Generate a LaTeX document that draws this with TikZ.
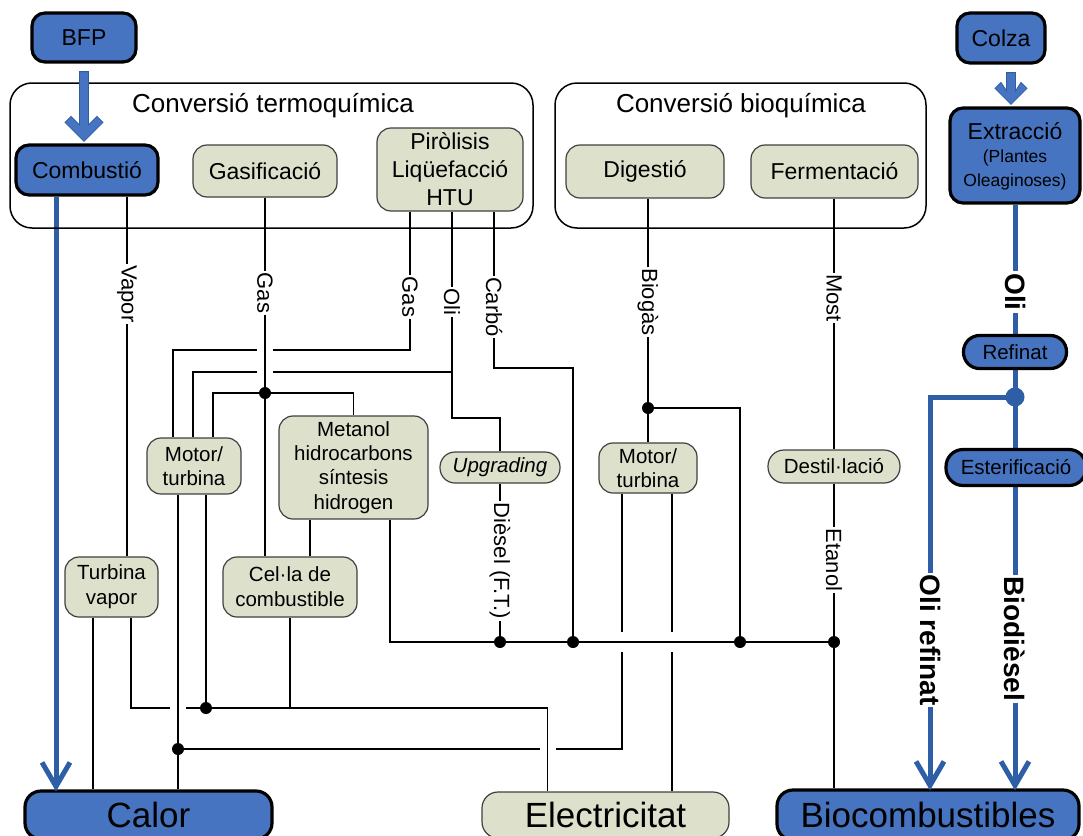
\documentclass[tikz,border=0pt]{standalone}
\usepackage{fontspec}
\setmainfont{Liberation Sans}
\usetikzlibrary{calc}
\pgfdeclarelayer{background}
\pgfsetlayers{background,main}

\definecolor{bfill}{RGB}{70,116,192}
\definecolor{bline}{RGB}{46,95,166}
\definecolor{gfill}{RGB}{221,225,204}
\definecolor{gdraw}{RGB}{64,64,64}
\newcommand{\fs}[2]{\fontsize{#1}{#2}\selectfont}

\tikzset{
  bluebox/.style={draw=black, line width=3.2pt, fill=bfill, rounded corners=13pt, inner sep=0pt, align=center},
  greenbox/.style={draw=gdraw, line width=1.2pt, fill=gfill, rounded corners=14pt, inner sep=0pt, align=center},
  groupframe/.style={draw=black, line width=1.5pt, rounded corners=22pt, inner sep=0pt},
  boxsize/.style 2 args={minimum width=#1pt, minimum height=#2pt},
  wire/.style={draw=black, line width=1.8pt},
  bwire/.style={draw=bline, line width=5pt},
  lbl/.style={rotate=-90, fill=white, inner sep=1.5pt, font=\fs{22}{24}},
  blbl/.style={rotate=-90, fill=white, inner sep=2pt, font=\fs{28}{30}\bfseries},
  jdot/.style={circle, fill=black, inner sep=0pt, minimum size=12pt},
  bdot/.style={circle, fill=bline, inner sep=0pt, minimum size=19pt},
  fatarrow/.style={fill=bfill, draw=bline, line width=0.8pt, line join=miter},
}

% broad block arrow from the bottom of #1 to the top of #2, shaft shifted by #3,
% head half-width #4
\newcommand{\fatdown}[4]{%
  \filldraw[fatarrow] let \p1=([xshift=#3]#1.south), \p2=(#2.north) in
    (\x1-4.5pt,\y1-8pt) -- (\x1+4.5pt,\y1-8pt) -- (\x1+4.5pt,\y2+#4pt-0.5pt)
    -- (\x1+#4pt-6pt,\y2+#4pt+8pt) -- (\x1+#4pt,\y2+#4pt+2pt) -- (\x1,\y2+2pt)
    -- (\x1-#4pt,\y2+#4pt+2pt) -- (\x1-#4pt+6pt,\y2+#4pt+8pt) -- (\x1-4.5pt,\y2+#4pt-0.5pt) -- cycle;}

% open V head of a blue flow line ending at coordinate #1
\newcommand{\vtip}[1]{%
  \draw[bwire, line cap=butt, line join=miter]
    ([xshift=-14pt,yshift=27pt]#1) -- ([yshift=3pt]#1) -- ([xshift=14pt,yshift=27pt]#1);}

\begin{document}
\begin{tikzpicture}[x=1pt,y=-1pt]
\useasboundingbox (0,0) rectangle (1083,835);

% process groups
\node[groupframe, boxsize={523}{145}] (termo) at (271.5,155.5) {};
\node[font=\fs{26}{28}] (termot) at (273,106) {Conversió termoquímica};
\node[groupframe, boxsize={371}{145}] (bioq) at (740.5,155.5) {};
\node[font=\fs{26}{28}] (bioqt) at (741,106) {Conversió bioquímica};

% top row
\node[bluebox, boxsize={104}{49}, font=\fs{23}{26}] (bfp) at (84,37.5) {BFP};
\node[bluebox, boxsize={142}{50}, font=\fs{23}{26}] (comb) at (87,170) {Combustió};
\node[greenbox, boxsize={144}{52}, font=\fs{23}{26}] (gasif) at (265,171) {Gasificació};
\node[greenbox, boxsize={146}{83}, font=\fs{23}{28}] (pyr) at (450,169.5) {Piròlisis\\Liqüefacció\\HTU};
\node[greenbox, boxsize={158}{53}, font=\fs{23}{26}] (dig) at (645,171.5) {Digestió};
\node[greenbox, boxsize={167}{53}, font=\fs{23}{26}] (ferm) at (834.5,171.5) {Fermentació};
\node[bluebox, boxsize={88}{50}, font=\fs{23}{26}] (colza) at (1001,38) {Colza};
\node[bluebox, boxsize={130}{95}] (extr) at (1015,155.5) {};
\node[font=\fs{23}{26}] (extrt) at (1015,131) {Extracció};
\node[font=\fs{17.5}{24}, align=center] (extrs) at (1015,170) {(Plantes\\Oleaginoses)};

% intermediate conversions
\node[greenbox, boxsize={94}{56}, font=\fs{20.5}{24}] (mtl) at (194,466) {Motor/\\turbina};
\node[greenbox, boxsize={149}{103}, font=\fs{20.5}{24.3}] (meta) at (353.5,467.5) {Metanol\\hidrocarbons\\síntesis\\hidrogen};
\node[greenbox, boxsize={120}{31}, rounded corners=15pt, font=\fs{20.5}{24}\itshape] (upg) at (500,467.5) {Upgrading};
\node[greenbox, boxsize={98}{50}, font=\fs{20.5}{24}] (mtr) at (648,468) {Motor/\\turbina};
\node[greenbox, boxsize={132}{33}, rounded corners=16pt, font=\fs{20.5}{24}] (dest) at (834,466.5) {Destil·lació};
\node[bluebox, boxsize={103}{33}, rounded corners=16pt, font=\fs{20.5}{24}] (refi) at (1015,352) {Refinat};
\node[bluebox, boxsize={140}{36}, rounded corners=17pt, font=\fs{20.5}{24}] (ester) at (1016,467.5) {Esterificació};
\node[greenbox, boxsize={93}{60}, font=\fs{20.5}{25}] (turbv) at (111.5,587) {Turbina\\vapor};
\node[greenbox, boxsize={134}{60}, font=\fs{20.5}{25}] (cella) at (290,587) {Cel·la de\\combustible};

% final products
\node[bluebox, boxsize={247}{48}, rounded corners=16pt, font=\fs{35}{38}] (calor) at (148.5,815) {Calor};
\node[greenbox, boxsize={247}{46}, rounded corners=16pt, font=\fs{35}{38}] (elec) at (605.5,815) {Electricitat};
\node[bluebox, boxsize={302}{50}, rounded corners=16pt, font=\fs{35}{38}] (bioc) at (928,815) {Biocombustibles};

% junction dots
\node[jdot] (jg) at (265,393) {};
\node[jdot] (jb) at (648,408) {};
\node[jdot] (je) at (206,708) {};
\node[jdot] (jc) at (178,749) {};
\node[jdot] (b1) at (500,642) {};
\node[jdot] (b2) at (573,642) {};
\node[jdot] (b3) at (740,642) {};
\node[jdot] (b4) at (834,642) {};
\node[bdot] (jr) at (1015,397) {};

\begin{pgfonlayer}{background}
  % thermochemical outputs
  \draw[wire] ([xshift=40pt]comb.south) -- ([xshift=15.5pt]turbv.north);
  \draw[wire] (gasif.south) -- ([xshift=-25pt]cella.north);
  \draw[wire] ([xshift=-40pt]pyr.south) |- (273,350);
  \draw[wire] (257,350) -| ([xshift=-21pt]mtl.north);
  \draw[wire] ([xshift=2pt]pyr.south) |- (500,418) -- (upg.north);
  \draw[wire] (452,372) -- (273,372);
  \draw[wire] (257,372) -| ([xshift=-1pt]mtl.north);
  \draw[wire] ([xshift=44pt]pyr.south) |- (573,368) -- (b2.center);
  \draw[wire] ([xshift=19pt]mtl.north) |- (meta.north |- jg) -- (meta.north);

  % engines and turbines to heat and electricity
  \draw[wire] ([xshift=-16pt]mtl.south) -- ([xshift=29.5pt]calor.north);
  \draw[wire] ([xshift=12pt]mtl.south) -- (je.center);
  \draw[wire] ([xshift=-18.5pt]turbv.south) -- ([xshift=-55.5pt]calor.north);
  \draw[wire] ([xshift=19.5pt]turbv.south) |- (170,708);
  \draw[wire] (186,708) -| ([xshift=-58pt]elec.north);
  \draw[wire] ([xshift=20pt]cella.north) -- ([xshift=-43.5pt]meta.south);
  \draw[wire] (cella.south) -- (cella.south |- je);

  % fuel bus to biofuels
  \draw[wire] ([xshift=36.5pt]meta.south) |- (b4.center) -- ([xshift=-94pt]bioc.north);
  \draw[wire] (upg.south) -- (b1.center);

  % biogas engine
  \draw[wire] ([xshift=3pt]dig.south) -- (mtr.north);
  \draw[wire] (jb.center) -| (b3.center);
  \draw[wire] ([xshift=-26pt]mtr.south) -- (622,632);
  \draw[wire] (622,652) |- (556,749);
  \draw[wire] (540,749) -- (jc.center);
  \draw[wire] ([xshift=24pt]mtr.south) -- (672,632);
  \draw[wire] (672,652) -- ([xshift=66.5pt]elec.north);

  % fermentation
  \draw[wire] ([xshift=-0.5pt]ferm.south) -- (dest.north);
  \draw[wire] (dest.south) -- (b4.center);

  % blue main flows
  \coordinate (tc) at ([xshift=-92.5pt]calor.north);
  \coordinate (tr) at ([xshift=2pt]bioc.north);
  \coordinate (tb) at ([xshift=87pt]bioc.north);
  \draw[bwire] ([xshift=-31pt]comb.south) -- ([yshift=3pt]tc);
  \draw[bwire] (extr.south) -- (refi.north);
  \draw[bwire] (refi.south) -- ([xshift=-1pt]ester.north);
  \draw[bwire] (jr.center) -| ([yshift=3pt]tr);
  \draw[bwire] ([xshift=-1pt]ester.south) -- ([yshift=3pt]tb);
\end{pgfonlayer}

% arrow heads
\vtip{tc}
\vtip{tr}
\vtip{tb}
\fatdown{bfp}{comb}{0pt}{19}
\fatdown{colza}{extr}{10pt}{16}

% flow labels
\node[lbl] (lvap) at (127,294) {Vapor};
\node[lbl] (lgas1) at (265,293) {Gas};
\node[lbl] (lgas2) at (410,297) {Gas};
\node[lbl] (loli) at (452,302) {Oli};
\node[lbl] (lcarb) at (494,307) {Carbó};
\node[lbl] (lbiog) at (648,302) {Biogàs};
\node[lbl] (lmost) at (834,298) {Most};
\node[lbl] (ldies) at (500,561) {Dièsel (F.T.)};
\node[lbl] (letan) at (834,560) {Etanol};
\node[blbl] (loli2) at (1015,292) {Oli};
\node[blbl] (lref) at (930,640) {Oli refinat};
\node[blbl] (lbiod) at (1015,639) {Biodièsel};
\end{tikzpicture}
\end{document}
